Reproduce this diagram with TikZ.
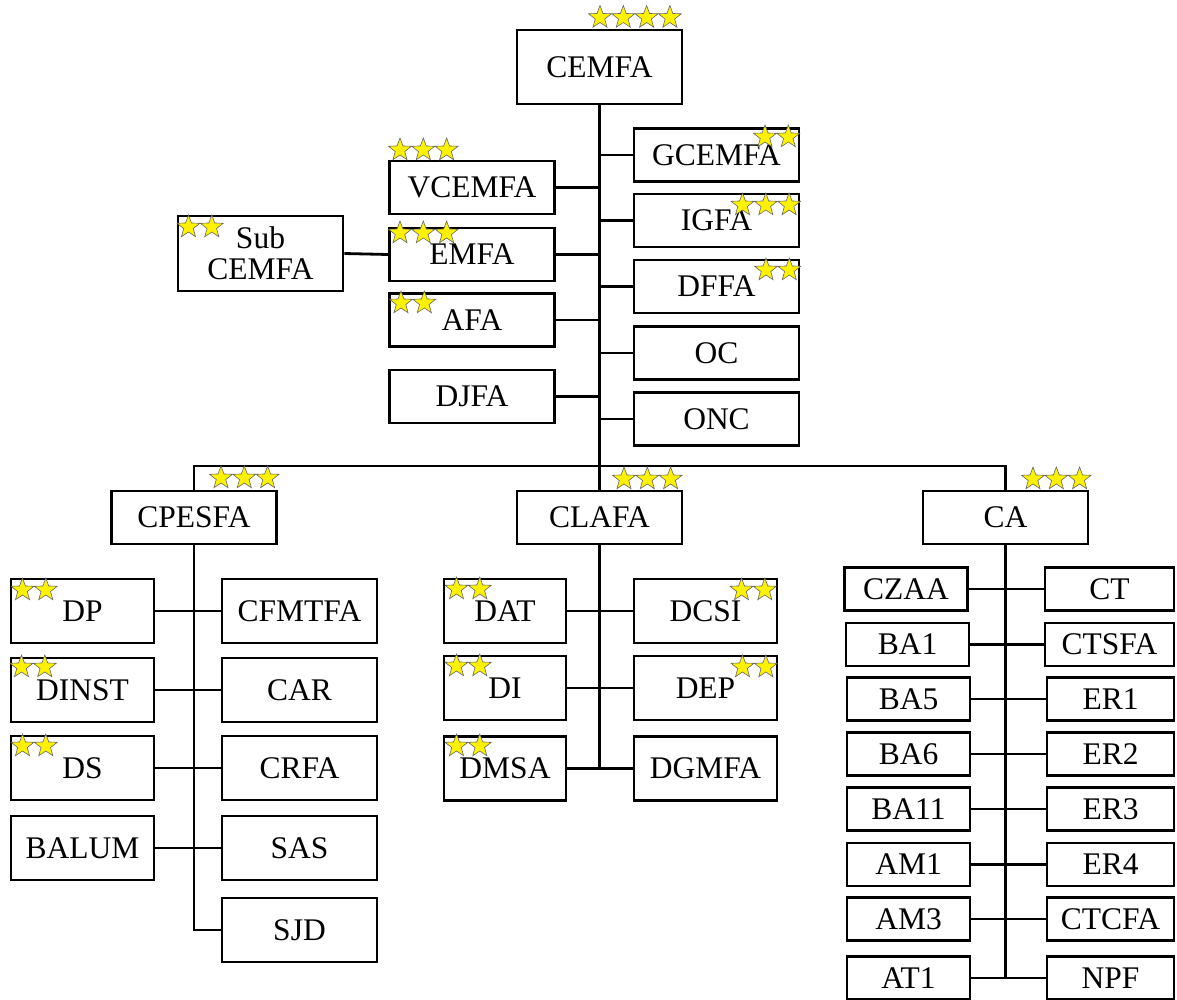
\documentclass[tikz,border=0pt]{standalone}
\usepackage{fontspec}
\setmainfont{Liberation Serif}
\usetikzlibrary{shapes.geometric}
\tikzset{
  box/.style={draw, line width=2.8pt, inner sep=0pt, align=center,
    font=\fontsize{31.5}{31}\selectfont},
  bigbox/.style={box, minimum width=165pt, minimum height=53pt},
  midbox/.style={box, minimum width=143pt, minimum height=64pt},
  smallbox/.style={box, minimum height=43pt},
  conn/.style={line width=2.8pt},
  st/.style={star, star points=5, star point ratio=2.4, minimum size=24pt,
    inner sep=0pt, fill=yellow, draw=black!60, line width=0.6pt},
}
\newcommand\starrow[4]{\foreach \i in {1,...,#4}{\node[st] (#1-\i) at ({#2+(\i-1)*23.3},#3) {};}}
\begin{document}
\begin{tikzpicture}[x=1pt,y=-1pt]
\useasboundingbox (0,0) rectangle (1177,999);
% top level
\node[box, minimum width=165pt, minimum height=74pt] (cemfa) at (599.5,67) {CEMFA};
\node[bigbox] (gcemfa) at (716.5,155) {GCEMFA};
\node[bigbox] (igfa) at (716.5,220.5) {IGFA};
\node[bigbox] (dffa) at (716.5,286.5) {DFFA};
\node[bigbox] (oc) at (716.5,353) {OC};
\node[bigbox] (onc) at (716.5,419) {ONC};
\node[bigbox] (vcemfa) at (472,187.5) {VCEMFA};
\node[bigbox] (emfa) at (472,254.5) {EMFA};
\node[bigbox] (afa) at (472,320) {AFA};
\node[bigbox] (djfa) at (472,396.5) {DJFA};
\node[box, minimum width=165pt, minimum height=75pt] (sub) at (260.5,253.5) {Sub\\CEMFA};
\node[bigbox] (cpesfa) at (194,517.5) {CPESFA};
\node[bigbox] (clafa) at (599.5,517.5) {CLAFA};
\node[bigbox] (ca) at (1005.5,517.5) {CA};
% CPESFA children
\node[midbox] (dp) at (82.5,611) {DP};
\node[midbox] (dinst) at (82.5,690) {DINST};
\node[midbox] (ds) at (82.5,768) {DS};
\node[midbox] (balum) at (82.5,848) {BALUM};
\node[midbox, minimum width=155pt] (cfmtfa) at (299.5,611) {CFMTFA};
\node[midbox, minimum width=155pt] (car) at (299.5,690) {CAR};
\node[midbox, minimum width=155pt] (crfa) at (299.5,768) {CRFA};
\node[midbox, minimum width=155pt] (sas) at (299.5,848) {SAS};
\node[midbox, minimum width=155pt] (sjd) at (299.5,930) {SJD};
% CLAFA children
\node[midbox, minimum width=122pt] (dat) at (505,611) {DAT};
\node[midbox, minimum width=122pt] (di) at (505,688) {DI};
\node[midbox, minimum width=122pt] (dmsa) at (505,768.5) {DMSA};
\node[midbox] (dcsi) at (705.5,611) {DCSI};
\node[midbox] (dep) at (705.5,688) {DEP};
\node[midbox] (dgmfa) at (705.5,768.5) {DGMFA};
% CA children
\node[smallbox, minimum width=123pt] (czaa) at (906,589) {CZAA};
\node[smallbox, minimum width=123pt] (ba1) at (907.5,644.5) {BA1};
\node[smallbox, minimum width=123pt] (ba5) at (908.5,699) {BA5};
\node[smallbox, minimum width=123pt] (ba6) at (908.5,754) {BA6};
\node[smallbox, minimum width=123pt] (ba11) at (908.5,809) {BA11};
\node[smallbox, minimum width=123pt] (am1) at (908.5,864.5) {AM1};
\node[smallbox, minimum width=123pt] (am3) at (908.5,919) {AM3};
\node[smallbox, minimum width=123pt] (at1) at (908.5,978) {AT1};
\node[smallbox, minimum width=129pt] (ct) at (1109.5,589) {CT};
\node[smallbox, minimum width=129pt] (ctsfa) at (1109.5,644.5) {CTSFA};
\node[smallbox, minimum width=127pt] (er1) at (1110.5,699) {ER1};
\node[smallbox, minimum width=127pt] (er2) at (1110.5,754) {ER2};
\node[smallbox, minimum width=127pt] (er3) at (1110.5,809) {ER3};
\node[smallbox, minimum width=127pt] (er4) at (1110.5,864.5) {ER4};
\node[smallbox, minimum width=127pt] (ctcfa) at (1110.5,919) {CTCFA};
\node[smallbox, minimum width=127pt] (npf) at (1110.5,978) {NPF};
% connectors
\coordinate (bar) at (0,466);
\draw[conn] (cemfa.south) -- (cemfa.south |- bar);
\draw[conn] (cpesfa.north) -- (cpesfa.north |- bar) -- (ca.north |- bar) -- (ca.north);
\draw[conn] (clafa.north) -- (clafa.north |- bar);
\foreach \n in {gcemfa,igfa,dffa,oc,onc}{\draw[conn] (\n.west) -- (cemfa.south |- \n.west);}
\foreach \n in {vcemfa,emfa,afa,djfa}{\draw[conn] (\n.east) -- (cemfa.south |- \n.east);}
\draw[conn] (sub.east) -- (emfa.west);
\draw[conn] (cpesfa.south) -- (cpesfa.south |- sjd.west) -- (sjd.west);
\foreach \a/\b in {dp/cfmtfa,dinst/car,ds/crfa,balum/sas}{\draw[conn] (\a.east) -- (\b.west);}
\draw[conn] (clafa.south) -- (clafa.south |- dmsa.east);
\foreach \a/\b in {dat/dcsi,di/dep,dmsa/dgmfa}{\draw[conn] (\a.east) -- (\b.west);}
\draw[conn] (ca.south) -- (ca.south |- at1.east);
\foreach \a/\b in {czaa/ct,ba1/ctsfa,ba5/er1,ba6/er2,ba11/er3,am1/er4,am3/ctcfa,at1/npf}{\draw[conn] (\a.east) -- (\b.west);}
% stars
\starrow{scemfa}{600}{17.5}{4}
\starrow{sgcemfa}{765}{137}{2}
\starrow{sigfa}{742.5}{205}{3}
\starrow{sdffa}{766}{270}{2}
\starrow{svcemfa}{400}{150}{3}
\starrow{semfa}{400}{233}{3}
\starrow{safa}{401}{303}{2}
\starrow{ssub}{188.5}{227}{2}
\starrow{scpesfa}{221}{478}{3}
\starrow{sclafa}{624}{479}{3}
\starrow{sca}{1033}{479}{3}
\starrow{sdp}{22.5}{590}{2}
\starrow{sdinst}{21.5}{667}{2}
\starrow{sds}{22.5}{746}{2}
\starrow{sdat}{456.5}{589}{2}
\starrow{sdi}{456.5}{666}{2}
\starrow{sdmsa}{456.5}{746}{2}
\starrow{sdcsi}{741.5}{590}{2}
\starrow{sdep}{742.5}{667}{2}
\end{tikzpicture}
\end{document}
